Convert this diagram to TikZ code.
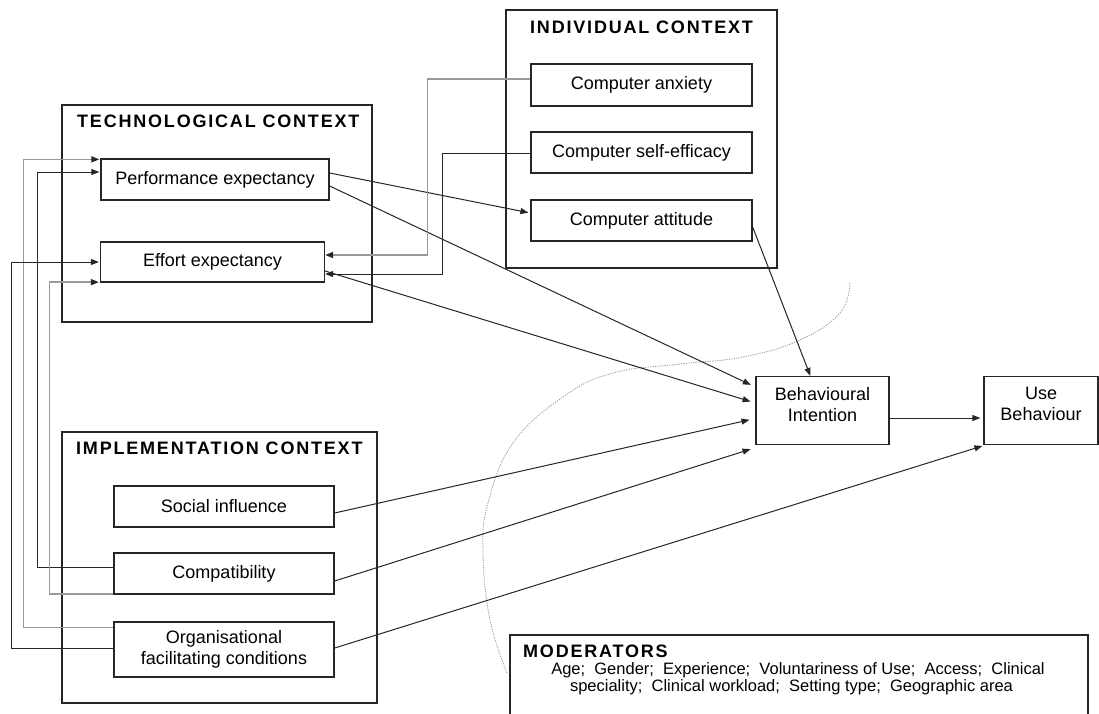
\documentclass[tikz,border=0pt]{standalone}
\usepackage{fontspec}
\setmainfont{Liberation Sans}
\newfontfamily\titlefont[LetterSpace=10]{Liberation Sans}
\usetikzlibrary{arrows.meta,calc}
\begin{document}
\begin{tikzpicture}[x=1pt,y=-1pt,
  ctxbox/.style={draw=black!85,line width=1.3pt,inner sep=0pt},
  box/.style={draw=black!85,line width=1.3pt,inner sep=0pt,align=center,font={\fontsize{18}{21}\selectfont}},
  ttl/.style={anchor=base west,inner sep=0pt,font={\titlefont\bfseries\fontsize{18}{21}\selectfont}},
  modtxt/.style={anchor=base,inner sep=0pt,font={\fontsize{16.5}{19}\selectfont}},
  conn/.style={draw=black!85,line width=1pt,-{Triangle[length=8pt,width=6pt]}},
  grayconn/.style={draw=black!40,line width=1.4pt,-{Triangle[length=8pt,width=6pt,black!85]}},
  curve/.style={draw=black!40,line width=0.8pt,dash pattern=on 1.2pt off 1.2pt}]
\clip (0,0) rectangle (1099,713);
\fill[white] (0,0) rectangle (1099,713);

% dotted curve
\draw[curve] plot[smooth,tension=0.7] coordinates {(850,283) (840,313) (800,340) (743,357) (680,364) (613,373) (563,397) (513,443) (488,503) (483,553) (490,620) (507,673)};

% context boxes
\node[ctxbox,minimum width=310pt,minimum height=217pt] (tech) at (217,213.5) {};
\node[ctxbox,minimum width=271pt,minimum height=258pt] (indiv) at (641.5,139) {};
\node[ctxbox,minimum width=315pt,minimum height=271pt] (impl) at (219.5,567.5) {};
\node[ctxbox,minimum width=578pt,minimum height=125pt] (mod) at (799,697.5) {};

\node[ttl] (ttech) at (77,127) {TECHNOLOGICAL CONTEXT};
\node[ttl] (tindiv) at (530,33) {INDIVIDUAL CONTEXT};
\node[ttl] (timpl) at (76,454) {IMPLEMENTATION CONTEXT};
\node[ttl] (tmod) at (523,657) {MODERATORS};
\node[modtxt] (mod1) at (798,674) {Age;\ \ Gender;\ \ Experience;\ \ Voluntariness of Use;\ \ Access;\ \ Clinical};
\node[modtxt] (mod2) at (791.5,691) {speciality;\ \ Clinical workload;\ \ Setting type;\ \ Geographic area};

% construct boxes
\node[box,minimum width=228pt,minimum height=41pt] (pe) at (215,179.5) {Performance expectancy};
\node[box,minimum width=224pt,minimum height=40pt] (ee) at (212.5,262) {Effort expectancy};
\node[box,minimum width=221pt,minimum height=42pt] (ca) at (641.5,85) {Computer anxiety};
\node[box,minimum width=221pt,minimum height=41pt] (cse) at (641.5,152.5) {Computer self-efficacy};
\node[box,minimum width=221pt,minimum height=41pt] (catt) at (641.5,220.5) {Computer attitude};
\node[box,minimum width=220pt,minimum height=41pt] (si) at (224,506.5) {Social influence};
\node[box,minimum width=220pt,minimum height=41pt] (comp) at (224,573.5) {Compatibility};
\node[box,minimum width=220pt,minimum height=55pt] (ofc) at (224,649.5) {Organisational\\facilitating conditions};
\node[box,minimum width=133pt,minimum height=68pt] (bi) at (822.5,410.5) {Behavioural\\Intention\\[-8pt]\mbox{}};
\node[box,minimum width=114pt,minimum height=68pt] (ub) at (1041,410.5) {Use\\Behaviour\\[-8pt]\mbox{}};

% connectors to the right
\draw[conn,shorten >=2pt] ($(pe.east)+(0,-6.5)$) -- ($(catt.west)+(0,-7.5)$);
\draw[conn,shorten >=5pt] ($(pe.east)+(0,6.5)$) -- ($(bi.west)+(0,-23.5)$);
\draw[conn,shorten >=5pt] ($(ee.east)+(0,9)$) -- ($(bi.west)+(0,-7.5)$);
\draw[conn,shorten >=6pt] ($(si.east)+(0,6.5)$) -- ($(bi.west)+(0,8)$);
\draw[conn,shorten >=5pt] ($(comp.east)+(0,7.5)$) -- ($(bi.south west)+(0,2.5)$);
\draw[conn,shorten >=1pt] ($(ofc.east)+(0,-1.5)$) -- ($(ub.south west)+(0,0.5)$);
\draw[conn] ($(catt.east)+(0,6.5)$) -- ($(bi.north west)+(55,0)$);
\draw[conn,shorten >=3pt] ($(bi.east)+(0,7.5)$) -- ($(ub.west)+(0,7.5)$);

% individual context to effort expectancy
\draw[grayconn] ($(ca.west)+(0,-6)$) -- ++(-103,0) |- ($(ee.east)+(0,-7)$);
\draw[conn] ($(cse.west)+(0,0.5)$) -- ++(-88,0) |- ($(ee.east)+(0,12)$);

% feedback loops on the left
\draw[grayconn,shorten >=1pt] ($(ofc.north west)+(0,6)$) -- ++(-90,0) |- ($(pe.north west)+(0,1)$);
\draw[conn,shorten >=1pt] ($(comp.west)+(0,-6.5)$) -- ++(-76,0) |- ($(pe.west)+(0,-7.5)$);
\draw[conn,shorten >=1pt] ($(ofc.west)+(0,-1.5)$) -- ++(-102,0) |- (ee.west);
\draw[grayconn,shorten >=1pt] ($(comp.south west)+(0,-0.5)$) -- ++(-64,0) |- ($(ee.south west)+(0,-0.5)$);
\end{tikzpicture}
\end{document}
